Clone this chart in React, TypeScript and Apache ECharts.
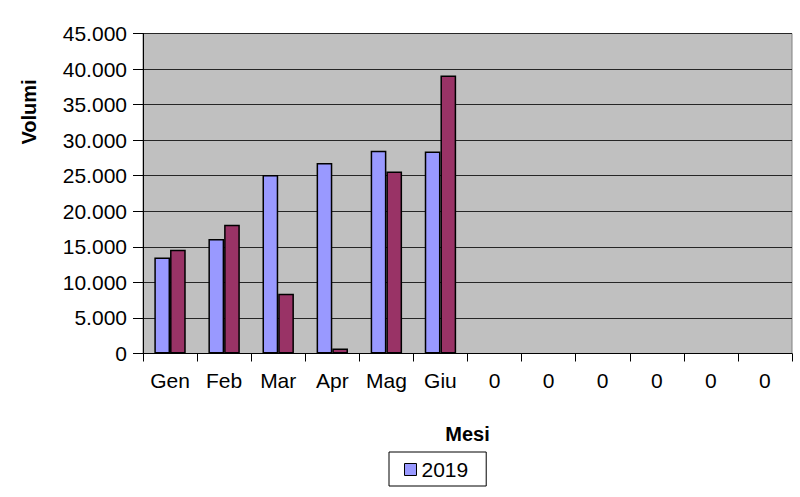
import React, { useEffect, useRef } from "react";
import * as echarts from "echarts";

const categories = ["Gen", "Feb", "Mar", "Apr", "Mag", "Giu", "0", "0", "0", "0", "0", "0"];
const series2019 = [13500, 16100, 25100, 26800, 28500, 28400];
const seriesOther = [14600, 18100, 8400, 700, 25600, 39100];
const yMax = 45000;
const yStep = 5000;
const legendNames = ["2019"];

const fmt = (v: number) => String(v).replace(/\B(?=(\d{3})+(?!\d))/g, ".");

export default function App() {
  const ref = useRef<HTMLDivElement>(null);
  useEffect(() => {
    if (!ref.current) return;
    const chart = echarts.init(ref.current, null, { renderer: "svg" });
    const font = "'Liberation Sans', Arial, sans-serif";
    chart.setOption({
      animation: false,
      backgroundColor: "#ffffff",
      textStyle: { fontFamily: font },
      grid: {
        left: 143,
        right: 8,
        top: 33.5,
        bottom: 143.5,
        show: true,
        backgroundColor: "#C0C0C0",
        borderColor: "#808080",
        borderWidth: 1,
      },
      legend: {
        data: legendNames,
        left: 389,
        top: 452,
        orient: "horizontal",
        backgroundColor: "#ffffff",
        borderColor: "#000000",
        borderWidth: 1,
        borderRadius: 0,
        padding: [7, 18, 6, 15],
        itemWidth: 12,
        itemHeight: 12,
        icon: "rect",
        itemStyle: { borderColor: "#000", borderWidth: 1 },
        textStyle: { fontSize: 21, color: "#000", fontFamily: font },
      },
      graphic: [
        {
          type: "text",
          x: 29,
          y: 112,
          rotation: Math.PI / 2,
          style: {
            text: "Volumi",
            font: `bold 20px ${font}`,
            fill: "#000",
            align: "center",
            verticalAlign: "middle",
          },
        },
      ],
      xAxis: {
        type: "category",
        data: categories,
        name: "Mesi",
        nameLocation: "middle",
        nameGap: 70,
        nameTextStyle: { fontSize: 20, fontWeight: "bold", color: "#000", fontFamily: font },
        axisLine: { show: true, lineStyle: { color: "#000", width: 1 } },
        axisTick: { show: true, length: 8, lineStyle: { color: "#000" } },
        axisLabel: { fontSize: 21, color: "#000", margin: 16, interval: 0 },
        splitLine: { show: false },
      },
      yAxis: {
        type: "value",
        min: 0,
        max: yMax,
        interval: yStep,
        axisLine: { show: true, lineStyle: { color: "#000", width: 1 } },
        axisTick: { show: true, length: 10, lineStyle: { color: "#000" } },
        axisLabel: { fontSize: 21, color: "#000", margin: 16, formatter: (v: number) => fmt(v) },
        splitLine: { show: true, lineStyle: { color: "#262626", width: 1 } },
      },
      series: [
        {
          name: "2019",
          type: "bar",
          data: series2019,
          barWidth: 15.7,
          barGap: "0%",
          itemStyle: { color: "#9999FF", borderColor: "#000", borderWidth: 1.5 },
        },
        {
          name: "2018",
          type: "bar",
          data: seriesOther,
          barWidth: 15.7,
          barGap: "0%",
          itemStyle: { color: "#993366", borderColor: "#000", borderWidth: 1.5 },
        },
      ],
    });
    return () => chart.dispose();
  }, []);
  return (
    <div
      ref={ref}
      style={{ position: "absolute", left: 0, top: 0, width: 800, height: 497 }}
    />
  );
}
